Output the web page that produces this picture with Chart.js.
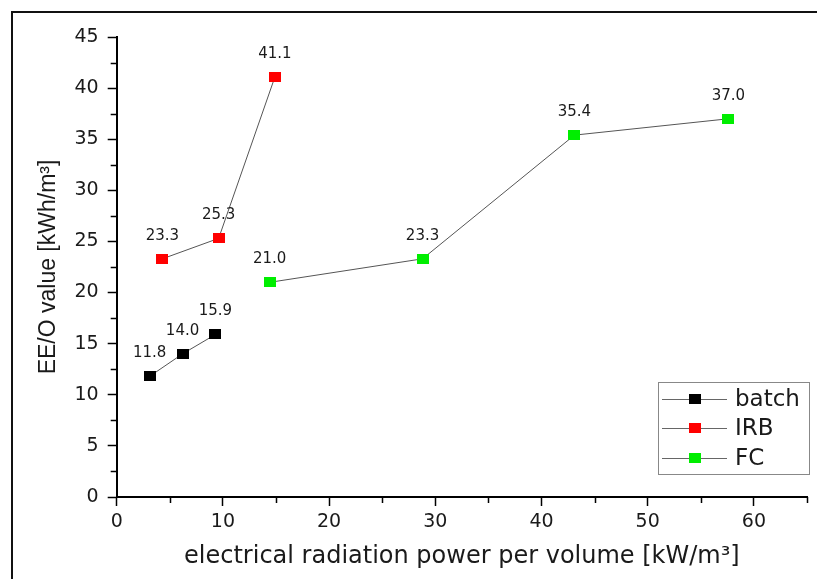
<!DOCTYPE html>
<html lang="en">
<head>
  <meta charset="UTF-8">
  <title>EE/O value vs. electrical radiation power</title>
  <style>
    body {
      margin: 0;
      background: #fff;
    }
    #chart {
      display: block;
    }
  </style>
</head>
<body>
<canvas id="chart" width="817" height="579"></canvas>

<script src="https://cdn.jsdelivr.net/npm/chart.js@4"></script>
<script>
  // EE/O values per reactor setup, x = electrical radiation power per volume
  const batchPower = [3.1, 6.2, 9.3];
  const batchEEO = [11.8, 14.0, 15.9];
  const irbPower = [4.3, 9.6, 14.9];
  const irbEEO = [23.3, 25.3, 41.1];
  const fcPower = [14.4, 28.8, 43.1, 57.6];
  const fcEEO = [21.0, 23.3, 35.4, 37.0];

  const seriesNames = ['batch', 'IRB', 'FC'];
  const seriesColors = ['#000000', '#ff0000', '#00ee00'];

  const xTickValues = [0, 10, 20, 30, 40, 50, 60];
  const yTickValues = [0, 5, 10, 15, 20, 25, 30, 35, 40, 45];

  const TEXT = '#1a1a1a';

  // small flat rectangles used as point markers
  function makeMarker(color) {
    const c = document.createElement('canvas');
    c.width = 12;
    c.height = 10;
    const g = c.getContext('2d');
    g.fillStyle = color;
    g.fillRect(0, 0, 12, 10);
    return c;
  }
  const markers = seriesColors.map(makeMarker);

  function toPoints(xs, ys) {
    return xs.map((x, i) => ({ x: x, y: ys[i] }));
  }
  const seriesData = [
    toPoints(batchPower, batchEEO),
    toPoints(irbPower, irbEEO),
    toPoints(fcPower, fcEEO)
  ];

  // outer frame (left and top edge only)
  const framePlugin = {
    id: 'frame',
    beforeDraw(chart) {
      const ctx = chart.ctx;
      ctx.save();
      ctx.strokeStyle = '#111';
      ctx.lineWidth = 2;
      ctx.beginPath();
      ctx.moveTo(12, chart.height + 2);
      ctx.lineTo(12, 12);
      ctx.lineTo(chart.width + 2, 12);
      ctx.stroke();
      ctx.restore();
    }
  };

  // short minor ticks between the major ones
  const minorTicks = {
    id: 'minorTicks',
    afterDraw(chart) {
      const ctx = chart.ctx;
      const xs = chart.scales.x;
      const ys = chart.scales.y;
      const area = chart.chartArea;
      ctx.save();
      ctx.strokeStyle = '#000';
      ctx.lineWidth = 1.5;
      ctx.beginPath();
      for (let v = 5; v <= 65; v += 10) {
        const px = Math.round(xs.getPixelForValue(v)) + 0.5;
        ctx.moveTo(px, area.bottom);
        ctx.lineTo(px, area.bottom + 6);
      }
      for (let v = 2.5; v < 45; v += 5) {
        const py = Math.round(ys.getPixelForValue(v)) + 0.5;
        ctx.moveTo(area.left, py);
        ctx.lineTo(area.left - 6, py);
      }
      ctx.stroke();
      ctx.restore();
    }
  };

  // value text above each marker
  const valueLabels = {
    id: 'valueLabels',
    afterDatasetsDraw(chart) {
      const ctx = chart.ctx;
      ctx.save();
      ctx.font = '15px "DejaVu Sans"';
      ctx.fillStyle = TEXT;
      ctx.textAlign = 'center';
      ctx.textBaseline = 'middle';
      chart.data.datasets.forEach((ds, i) => {
        chart.getDatasetMeta(i).data.forEach((pt, j) => {
          ctx.fillText(ds.data[j].y.toFixed(1), pt.x, pt.y - 23);
        });
      });
      ctx.restore();
    }
  };

  // boxed legend in the lower right corner of the plot
  const boxLegend = {
    id: 'boxLegend',
    afterDraw(chart) {
      const ctx = chart.ctx;
      const box = { x: 658, y: 382, w: 151, h: 92 };
      const rows = [399, 428, 458];
      ctx.save();
      ctx.fillStyle = '#fff';
      ctx.fillRect(box.x, box.y, box.w, box.h);
      ctx.strokeStyle = '#888';
      ctx.lineWidth = 1;
      ctx.strokeRect(box.x + 0.5, box.y + 0.5, box.w, box.h);
      ctx.font = '23px "DejaVu Sans"';
      ctx.textBaseline = 'middle';
      chart.data.datasets.forEach((ds, i) => {
        const y = rows[i];
        ctx.strokeStyle = '#666';
        ctx.beginPath();
        ctx.moveTo(662, y + 0.5);
        ctx.lineTo(727, y + 0.5);
        ctx.stroke();
        ctx.drawImage(markers[i], 695 - 6, y - 5);
        ctx.fillStyle = TEXT;
        ctx.fillText(ds.label, 735, y + 1);
      });
      ctx.restore();
    }
  };

  const datasets = seriesNames.map((name, i) => ({
    label: name,
    data: seriesData[i],
    borderColor: '#555',
    borderWidth: 1,
    backgroundColor: seriesColors[i],
    pointStyle: markers[i],
    pointRadius: 6,
    pointHoverRadius: 6,
    tension: 0
  }));

  new Chart(document.getElementById('chart'), {
    type: 'scatter',
    data: { datasets: datasets },
    options: {
      responsive: false,
      animation: false,
      devicePixelRatio: 1,
      showLine: true,
      layout: {
        padding: { top: 37, right: 10, left: 12, bottom: 0 }
      },
      plugins: {
        legend: { display: false },
        tooltip: { enabled: false }
      },
      scales: {
        x: {
          type: 'linear',
          min: 0,
          max: 65,
          afterBuildTicks: scale => {
            scale.ticks = xTickValues.map(v => ({ value: v }));
          },
          afterFit: scale => {
            scale.height = 82;
          },
          border: { display: true, color: '#000', width: 2 },
          grid: {
            drawOnChartArea: false,
            drawTicks: true,
            tickLength: 9,
            tickColor: '#000',
            tickWidth: 1.5
          },
          ticks: {
            color: TEXT,
            padding: 5,
            maxRotation: 0,
            font: { family: 'DejaVu Sans', size: 19 }
          },
          title: {
            display: true,
            text: 'electrical radiation power per volume [kW/m³]',
            color: TEXT,
            font: { family: 'DejaVu Sans', size: 24 },
            padding: { top: 0, bottom: 8 }
          }
        },
        y: {
          type: 'linear',
          min: 0,
          max: 45,
          afterBuildTicks: scale => {
            scale.ticks = yTickValues.map(v => ({ value: v }));
          },
          afterFit: scale => {
            scale.width = 104.7;
          },
          border: { display: true, color: '#000', width: 2 },
          grid: {
            drawOnChartArea: false,
            drawTicks: true,
            tickLength: 9,
            tickColor: '#000',
            tickWidth: 1.5
          },
          ticks: {
            color: TEXT,
            padding: 9,
            font: { family: 'DejaVu Sans', size: 19 }
          },
          title: {
            display: true,
            text: 'EE/O value [kWh/m³]',
            color: TEXT,
            font: { family: 'Liberation Sans', size: 23 },
            padding: { top: 23, bottom: 0 }
          }
        }
      }
    },
    plugins: [framePlugin, minorTicks, valueLabels, boxLegend]
  });
</script>
</body>
</html>
